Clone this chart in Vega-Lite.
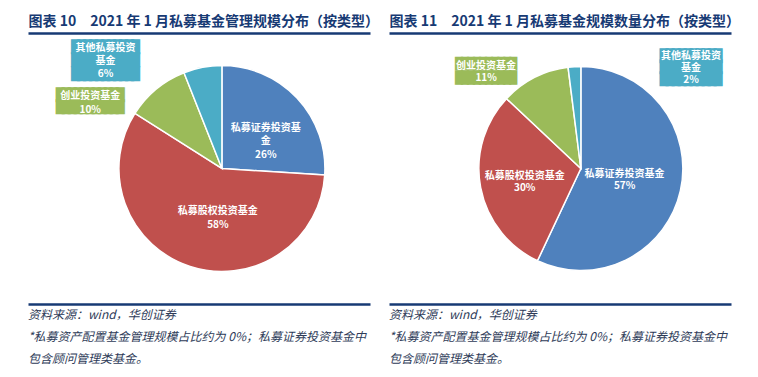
{
  "$schema": "https://vega.github.io/schema/vega-lite/v6.json",
  "background": "white",
  "padding": {"left": 28, "top": 14, "right": 10, "bottom": 2},
  "datasets": {
    "scale": [
      {"category": "私募证券投资基金", "rank": 1, "share": 26, "label": "私募证券投资基\n金\n26%"},
      {"category": "私募股权投资基金", "rank": 2, "share": 58, "label": "私募股权投资基金\n58%"},
      {"category": "创业投资基金", "rank": 3, "share": 10, "label": "创业投资基金\n10%"},
      {"category": "其他私募投资基金", "rank": 4, "share": 6, "label": "其他私募投资\n基金\n6%"}
    ],
    "count": [
      {"category": "私募证券投资基金", "rank": 1, "share": 57, "label": "私募证券投资基金\n57%"},
      {"category": "私募股权投资基金", "rank": 2, "share": 30, "label": "私募股权投资基金\n30%"},
      {"category": "创业投资基金", "rank": 3, "share": 11, "label": "创业投资基金\n11%"},
      {"category": "其他私募投资基金", "rank": 4, "share": 2, "label": "其他私募投资\n基金\n2%"}
    ],
    "notes": [
      {"line": 1, "text": "资料来源：wind，华创证券"},
      {"line": 2, "text": "*私募资产配置基金管理规模占比约为 0%；私募证券投资基金中"},
      {"line": 3, "text": "包含顾问管理类基金。"}
    ]
  },
  "columns": 2,
  "spacing": {"column": 19, "row": 0},
  "bounds": "flush",
  "concat": [
    {
      "width": 342,
      "height": 271,
      "data": {"name": "scale"},
      "encoding": {
        "x": {"datum": 0.567, "type": "quantitative", "scale": {"domain": [0, 1]},
          "axis": {"orient": "top", "labels": false, "ticks": false, "grid": false,
            "domainColor": "#173A74", "domainWidth": 2.5,
            "title": "图表 10\u30002021 年 1 月私募基金管理规模分布（按类型）",
            "titleFont": "Noto Sans CJK SC", "titleFontSize": 14, "titleFontWeight": "bold",
            "titleColor": "#173A74", "titleAnchor": "start", "titleAlign": "left", "titlePadding": 5}},
        "theta": {"field": "share", "type": "quantitative", "stack": true},
        "order": {"field": "rank", "type": "quantitative"},
        "detail": {"field": "category", "type": "nominal"}
      },
      "layer": [
        {
          "mark": {"type": "arc", "outerRadius": 103, "stroke": "white", "strokeWidth": 1.5},
          "encoding": {
            "color": {"field": "category", "type": "nominal", "legend": null,
              "scale": {"domain": ["私募证券投资基金", "私募股权投资基金", "创业投资基金", "其他私募投资基金"],
                "range": ["#4F81BD", "#C0504D", "#9BBB59", "#4BACC6"]}}
          }
        },
        {
          "mark": {"type": "text", "font": "Noto Sans CJK SC", "fontSize": 10, "fontWeight": "bold", "lineBreak": "\n", "lineHeight": 13.5, "radius": 52, "dx": 6, "dy": -5, "fill": "white", "baseline": "middle", "align": "center"},
          "encoding": {"text": {"condition": {"test": "datum.rank == 1", "field": "label"}, "value": ""}}
        },
        {
          "mark": {"type": "text", "font": "Noto Sans CJK SC", "fontSize": 10, "fontWeight": "bold", "lineBreak": "\n", "lineHeight": 14, "radius": 52, "dx": 12, "dy": -7, "fill": "white", "baseline": "middle", "align": "center"},
          "encoding": {"text": {"condition": {"test": "datum.rank == 2", "field": "label"}, "value": ""}}
        },
        {
          "mark": {"type": "text", "font": "DejaVu Sans Mono", "fontSize": 10, "lineBreak": "\n", "lineHeight": 13.7, "radius": 125, "dx": -93, "dy": 1, "fill": "#4BACC6", "stroke": "#4BACC6", "strokeWidth": 3, "strokeJoin": "miter", "baseline": "middle", "align": "center"},
          "encoding": {"text": {"condition": {"test": "datum.rank == 4", "value": "███████████\n███████████\n███████████"}, "value": ""}}
        },
        {
          "mark": {"type": "text", "font": "DejaVu Sans Mono", "fontSize": 10, "lineBreak": "\n", "lineHeight": 11.4, "radius": 125, "dx": -52, "dy": 23, "fill": "#9BBB59", "stroke": "#9BBB59", "strokeWidth": 3, "strokeJoin": "miter", "baseline": "middle", "align": "center"},
          "encoding": {"text": {"condition": {"test": "datum.rank == 3", "value": "███████████\n███████████"}, "value": ""}}
        },
        {
          "mark": {"type": "text", "font": "Noto Sans CJK SC", "fontSize": 10, "fontWeight": "bold", "lineBreak": "\n", "lineHeight": 13, "radius": 125, "dx": -93, "dy": 2, "fill": "white", "baseline": "middle", "align": "center"},
          "encoding": {"text": {"condition": {"test": "datum.rank == 4", "field": "label"}, "value": ""}}
        },
        {
          "mark": {"type": "text", "font": "Noto Sans CJK SC", "fontSize": 10, "fontWeight": "bold", "lineBreak": "\n", "lineHeight": 14, "radius": 125, "dx": -52, "dy": 24, "fill": "white", "baseline": "middle", "align": "center"},
          "encoding": {"text": {"condition": {"test": "datum.rank == 3", "field": "label"}, "value": ""}}
        }
      ]
    },
    {
      "width": 342,
      "height": 271,
      "data": {"name": "count"},
      "encoding": {
        "x": {"datum": 0.561, "type": "quantitative", "scale": {"domain": [0, 1]},
          "axis": {"orient": "top", "labels": false, "ticks": false, "grid": false,
            "domainColor": "#173A74", "domainWidth": 2.5,
            "title": "图表 11\u30002021 年 1 月私募基金规模数量分布（按类型）",
            "titleFont": "Noto Sans CJK SC", "titleFontSize": 14, "titleFontWeight": "bold",
            "titleColor": "#173A74", "titleAnchor": "start", "titleAlign": "left", "titlePadding": 5}},
        "theta": {"field": "share", "type": "quantitative", "stack": true},
        "order": {"field": "rank", "type": "quantitative"},
        "detail": {"field": "category", "type": "nominal"}
      },
      "layer": [
        {
          "mark": {"type": "arc", "outerRadius": 102, "stroke": "white", "strokeWidth": 1.5},
          "encoding": {
            "color": {"field": "category", "type": "nominal", "legend": null,
              "scale": {"domain": ["私募证券投资基金", "私募股权投资基金", "创业投资基金", "其他私募投资基金"],
                "range": ["#4F81BD", "#C0504D", "#9BBB59", "#4BACC6"]}}
          }
        },
        {
          "mark": {"type": "text", "font": "Noto Sans CJK SC", "fontSize": 10, "fontWeight": "bold", "lineBreak": "\n", "lineHeight": 12, "radius": 52, "dx": -7, "dy": -6, "fill": "white", "baseline": "middle", "align": "center"},
          "encoding": {"text": {"condition": {"test": "datum.rank == 1", "field": "label"}, "value": ""}}
        },
        {
          "mark": {"type": "text", "font": "Noto Sans CJK SC", "fontSize": 10, "fontWeight": "bold", "lineBreak": "\n", "lineHeight": 12, "radius": 52, "dx": -5, "dy": -2, "fill": "white", "baseline": "middle", "align": "center"},
          "encoding": {"text": {"condition": {"test": "datum.rank == 2", "field": "label"}, "value": ""}}
        },
        {
          "mark": {"type": "text", "font": "DejaVu Sans Mono", "fontSize": 10, "lineBreak": "\n", "lineHeight": 13.4, "radius": 125, "dx": -38, "dy": 7, "fill": "#9BBB59", "stroke": "#9BBB59", "strokeWidth": 2, "strokeJoin": "miter", "baseline": "middle", "align": "center"},
          "encoding": {"text": {"condition": {"test": "datum.rank == 3", "value": "██████████\n██████████"}, "value": ""}}
        },
        {
          "mark": {"type": "text", "font": "DejaVu Sans Mono", "fontSize": 10, "lineBreak": "\n", "lineHeight": 11.7, "radius": 125, "dx": 118, "dy": 12, "fill": "#4BACC6", "stroke": "#4BACC6", "strokeWidth": 3, "strokeJoin": "miter", "baseline": "middle", "align": "center"},
          "encoding": {"text": {"condition": {"test": "datum.rank == 4", "value": "██████████\n██████████\n██████████"}, "value": ""}}
        },
        {
          "mark": {"type": "text", "font": "Noto Sans CJK SC", "fontSize": 10, "fontWeight": "bold", "lineBreak": "\n", "lineHeight": 12, "radius": 125, "dx": -38, "dy": 9, "fill": "white", "baseline": "middle", "align": "center"},
          "encoding": {"text": {"condition": {"test": "datum.rank == 3", "field": "label"}, "value": ""}}
        },
        {
          "mark": {"type": "text", "font": "Noto Sans CJK SC", "fontSize": 10, "fontWeight": "bold", "lineBreak": "\n", "lineHeight": 12, "radius": 125, "dx": 118, "dy": 12, "fill": "white", "baseline": "middle", "align": "center"},
          "encoding": {"text": {"condition": {"test": "datum.rank == 4", "field": "label"}, "value": ""}}
        }
      ]
    },
    {
      "width": 342,
      "height": 66,
      "data": {"name": "notes"},
      "mark": {"type": "text", "align": "left", "baseline": "middle", "font": "Noto Sans CJK SC", "fontSize": 12, "fontStyle": "italic", "fill": "#2E3B58"},
      "encoding": {
        "x": {"datum": 0, "type": "quantitative", "scale": {"domain": [0, 1]},
          "axis": {"orient": "top", "labels": false, "ticks": false, "grid": false, "title": null, "domainColor": "#173A74", "domainWidth": 2.5}},
        "y": {"field": "line", "type": "ordinal", "axis": null},
        "text": {"field": "text", "type": "nominal"}
      }
    },
    {
      "width": 342,
      "height": 66,
      "data": {"name": "notes"},
      "mark": {"type": "text", "align": "left", "baseline": "middle", "font": "Noto Sans CJK SC", "fontSize": 12, "fontStyle": "italic", "fill": "#2E3B58"},
      "encoding": {
        "x": {"datum": 0, "type": "quantitative", "scale": {"domain": [0, 1]},
          "axis": {"orient": "top", "labels": false, "ticks": false, "grid": false, "title": null, "domainColor": "#173A74", "domainWidth": 2.5}},
        "y": {"field": "line", "type": "ordinal", "axis": null},
        "text": {"field": "text", "type": "nominal"}
      }
    }
  ],
  "config": {"view": {"stroke": null}}
}
